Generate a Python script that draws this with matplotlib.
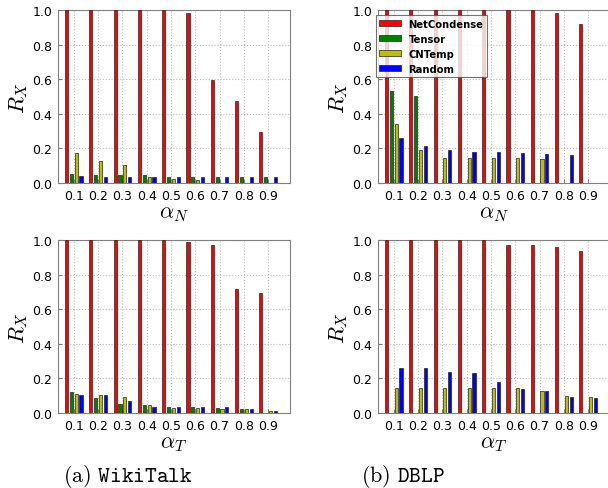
import matplotlib
matplotlib.use("Agg")
import matplotlib.pyplot as plt
import numpy as np

plt.rcParams['mathtext.fontset'] = 'cm'

alphas = ['0.1', '0.2', '0.3', '0.4', '0.5', '0.6', '0.7', '0.8', '0.9']
methods = ['NetCondense', 'Tensor', 'CNTemp', 'Random']
colors = ['#ff0000', '#008000', '#bfbf00', '#0000ff']

# WikiTalk, varying alpha_N
wiki_N_netcondense = [1.0, 1.0, 1.0, 1.0, 1.0, 0.983, 0.597, 0.472, 0.293]
wiki_N_tensor = [0.052, 0.046, 0.046, 0.046, 0.037, 0.037, 0.037, 0.037, 0.037]
wiki_N_cntemp = [0.171, 0.125, 0.102, 0.033, 0.025, 0.017, 0.0, 0.0, 0.0]
wiki_N_random = [0.039, 0.037, 0.034, 0.034, 0.034, 0.034, 0.034, 0.034, 0.034]

# DBLP, varying alpha_N
dblp_N_netcondense = [1.0, 1.0, 1.0, 1.0, 1.0, 1.0, 1.0, 0.981, 0.919]
dblp_N_tensor = [0.53, 0.505, 0.0, 0.0, 0.0, 0.0, 0.0, 0.0, 0.0]
dblp_N_cntemp = [0.341, 0.193, 0.145, 0.145, 0.145, 0.145, 0.141, 0.0, 0.0]
dblp_N_random = [0.262, 0.214, 0.191, 0.181, 0.179, 0.175, 0.168, 0.164, 0.0]

# WikiTalk, varying alpha_T
wiki_T_netcondense = [1.0, 1.0, 1.0, 1.0, 1.0, 0.987, 0.973, 0.714, 0.693]
wiki_T_tensor = [0.119, 0.086, 0.05, 0.044, 0.036, 0.036, 0.031, 0.023, 0.002]
wiki_T_cntemp = [0.109, 0.102, 0.092, 0.046, 0.027, 0.027, 0.023, 0.021, 0.012]
wiki_T_random = [0.104, 0.102, 0.069, 0.036, 0.035, 0.035, 0.033, 0.025, 0.013]

# DBLP, varying alpha_T
dblp_T_netcondense = [1.0, 1.0, 1.0, 1.0, 1.0, 0.969, 0.969, 0.96, 0.939]
dblp_T_tensor = [0.0, 0.0, 0.0, 0.0, 0.0, 0.0, 0.0, 0.0, 0.0]
dblp_T_cntemp = [0.146, 0.146, 0.146, 0.146, 0.146, 0.146, 0.129, 0.096, 0.092]
dblp_T_random = [0.263, 0.263, 0.238, 0.232, 0.179, 0.136, 0.127, 0.092, 0.088]

W, H = 608, 489
fig = plt.figure(figsize=(W / 100, H / 100), dpi=100)


def px_axes(left, top, width, height):
    return fig.add_axes([left / W, 1 - (top + height) / H, width / W, height / H])


panels = [
    (58, 11, r'$\alpha_N$', [wiki_N_netcondense, wiki_N_tensor, wiki_N_cntemp, wiki_N_random], False),
    (378, 11, r'$\alpha_N$', [dblp_N_netcondense, dblp_N_tensor, dblp_N_cntemp, dblp_N_random], True),
    (58, 241, r'$\alpha_T$', [wiki_T_netcondense, wiki_T_tensor, wiki_T_cntemp, wiki_T_random], False),
    (378, 241, r'$\alpha_T$', [dblp_T_netcondense, dblp_T_tensor, dblp_T_cntemp, dblp_T_random], False),
]

x = np.arange(len(alphas))
offsets = [-0.3, -0.1, 0.1, 0.3]
bw = 0.13

for left, top, xl, series, leg in panels:
    ax = px_axes(left, top, 232, 173)
    for k, (vals, c, name) in enumerate(zip(series, colors, methods)):
        ax.bar(x + offsets[k], vals, width=bw, color=c, edgecolor='#222222',
               linewidth=0.5, label=name, zorder=3)
    ax.set_xlim(-0.65, 8.9)
    ax.set_ylim(0, 1.0)
    ax.set_xticks(x)
    ax.set_xticklabels(alphas)
    ax.set_yticks(np.arange(0, 1.01, 0.2))
    ax.set_yticklabels(['%.1f' % v for v in np.arange(0, 1.01, 0.2)])
    ax.tick_params(direction='in', labelsize=9, length=3, color='0.5', pad=4)
    ax.grid(True, linestyle=':', color='0.75', linewidth=0.8, zorder=0)
    for s in ax.spines.values():
        s.set_color('0.5')
    ax.set_ylabel(r'$R_X$', fontsize=16, labelpad=2)
    ax.set_xlabel(xl, fontsize=16, labelpad=1)
    if leg:
        lg = ax.legend(loc='upper left', bbox_to_anchor=(-0.009, 0.971),
                       prop={'weight': 'bold', 'size': 7.2}, frameon=True,
                       fancybox=False, handlelength=2.2, handleheight=0.6,
                       borderpad=0.35, labelspacing=0.5, handletextpad=0.7,
                       borderaxespad=0.0)
        lg.get_frame().set_edgecolor('0.3')
        lg.get_frame().set_linewidth(0.8)

fig.text(128 / W, 1 - 477 / H, r'$\mathrm{(a)}\ \mathtt{WikiTalk}$', ha='center', va='center', fontsize=16)
fig.text(403 / W, 1 - 477 / H, r'$\mathrm{(b)}\ \mathtt{DBLP}$', ha='center', va='center', fontsize=16)

fig.savefig('out.png', dpi=100)
